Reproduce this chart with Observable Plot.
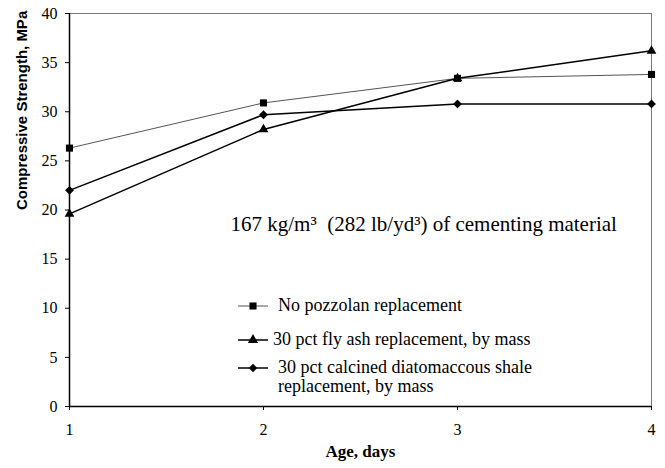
<!DOCTYPE html>
<html>
<head>
<meta charset="utf-8">
<script src="https://cdn.jsdelivr.net/npm/d3@7"></script>
<script src="https://cdn.jsdelivr.net/npm/@observablehq/plot@0.6"></script>
<style>
  body { margin: 0; background: #fff; }
  #wrap { position: relative; width: 665px; height: 468px; background: #fff; }
  #legend { position: absolute; left: 236px; top: 296px; font-family: "Liberation Serif", "Times New Roman", serif; font-size: 18px; color: #000; }
  .row { display: flex; align-items: flex-start; }
  .row svg { flex: none; }
  .row span { line-height: 19px; }
</style>
</head>
<body>
<div id="wrap"><div id="legend"></div></div>
<script>
const ages = [1, 2, 3, 4];
const seriesNames = [
  "No pozzolan replacement",
  "30 pct fly ash replacement, by mass",
  "30 pct calcined diatomaccous shale replacement, by mass"
];
const noPozzolan = [26.3, 30.9, 33.4, 33.8];
const flyAsh = [19.6, 28.2, 33.4, 36.2];
const diatomaceous = [22.0, 29.7, 30.8, 30.8];
const yTicks = [0, 5, 10, 15, 20, 25, 30, 35, 40];
const xTicks = [1, 2, 3, 4];
const annotation = "167 kg/m³  (282 lb/yd³) of cementing material";

const symbols = ["square", "triangle", "diamond2"];
const strokes = ["#555", "#000", "#000"];
const widths = [1, 1.5, 1.5];
const rows = [noPozzolan, flyAsh, diatomaceous].map((vals, i) =>
  vals.map((v, j) => ({ age: ages[j], value: v, series: seriesNames[i], idx: i }))
);

const marks = [
  Plot.frame({ stroke: "#777", strokeWidth: 1 }),
  Plot.ruleX([1], { stroke: "#000", strokeWidth: 1.5 }),
  Plot.ruleY([0], { stroke: "#000", strokeWidth: 1.5 }),
  Plot.axisY({ ticks: yTicks, tickSize: 4, tickPadding: 8, label: null, fontSize: 16 }),
  Plot.axisX({ ticks: xTicks, tickSize: 4, tickPadding: 13, label: null, fontSize: 16, tickFormat: d3.format("d") }),
  Plot.text(["Compressive Strength, MPa"], { frameAnchor: "left", rotate: -90, dx: -47, fontFamily: "Liberation Sans, Arial, sans-serif", fontWeight: "bold", fontSize: 15 }),
  Plot.text(["Age, days"], { frameAnchor: "bottom", dy: 50, fontWeight: "bold", fontSize: 17 }),
  Plot.text([annotation], { frameAnchor: "top-left", dx: 161, dy: 203, textAnchor: "start", fontSize: 21 })
];
rows.forEach((data, i) => {
  marks.push(Plot.line(data, { x: "age", y: "value", stroke: strokes[i], strokeWidth: widths[i] }));
  marks.push(Plot.dot(data, { x: "age", y: "value", symbol: () => symbols[i], fill: "#000", stroke: "none", r: i === 1 ? 3.6 : 4 }));
});

const chart = Plot.plot({
  width: 665,
  height: 468,
  marginLeft: 69,
  marginRight: 14,
  marginTop: 13,
  marginBottom: 62,
  style: { fontFamily: "'Liberation Serif', 'Times New Roman', serif", fontSize: "16px", color: "#000", background: "#fff" },
  x: { domain: [1, 4] },
  y: { domain: [0, 40] },
  marks
});
const wrap = document.getElementById("wrap");
wrap.insertBefore(chart, wrap.firstChild);

// legend
const legend = document.getElementById("legend");
const tops = [0, 34, 62];
seriesNames.forEach((name, i) => {
  const row = document.createElement("div");
  row.className = "row";
  row.style.position = "absolute";
  row.style.top = tops[i] + "px";
  row.style.left = "0px";
  row.style.width = i === 2 ? "320px" : "380px";
  const s = d3.create("svg").attr("width", 40).attr("height", 19);
  s.append("line").attr("x1", 2).attr("x2", 32).attr("y1", 10).attr("y2", 10)
    .attr("stroke", strokes[i]).attr("stroke-width", widths[i]);
  const sym = { square: d3.symbolSquare, triangle: d3.symbolTriangle, diamond2: d3.symbolDiamond2 }[symbols[i]];
  s.append("path").attr("d", d3.symbol(sym, i === 0 ? 50 : 45)()).attr("transform", "translate(17,10)").attr("fill", "#000");
  row.appendChild(s.node());
  const t = document.createElement("span");
  t.textContent = name;
  t.style.marginLeft = i === 1 ? "-3px" : "2px";
  row.appendChild(t);
  legend.appendChild(row);
});
</script>
</body>
</html>
